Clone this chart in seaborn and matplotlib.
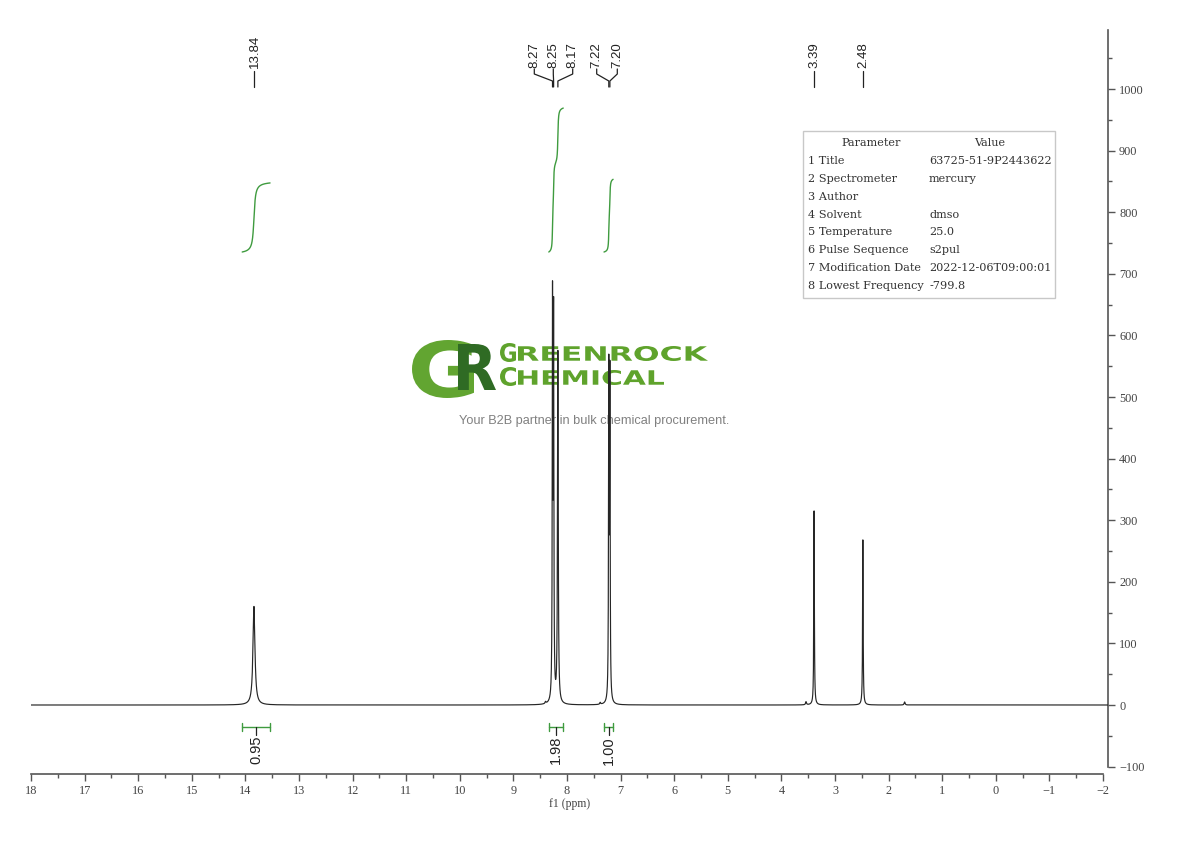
import numpy as np
import pandas as pd
import matplotlib
matplotlib.use("Agg")
import matplotlib.pyplot as plt
import seaborn as sns
from matplotlib.textpath import TextPath
from matplotlib.patches import PathPatch, Rectangle
from matplotlib.font_manager import FontProperties
from matplotlib.transforms import Affine2D
from matplotlib.ticker import MultipleLocator

# ---------------- data ----------------
peak_ppm = [13.84, 8.27, 8.25, 8.17, 7.22, 7.20, 3.39, 2.48, 8.40, 7.38, 3.54, 1.70]
peak_height = [160, 635, 605, 570, 527, 516, 315, 268, 3, 3, 5, 5]
peak_hwhm = [0.022, 0.006, 0.006, 0.008, 0.006, 0.006, 0.006, 0.006, 0.01, 0.01, 0.01, 0.01]

label_groups = [["13.84"], ["8.27", "8.25", "8.17"], ["7.22", "7.20"], ["3.39"], ["2.48"]]

integral_start = [14.06, 8.34, 7.31]
integral_end = [13.54, 8.07, 7.14]
integral_value = [0.95, 1.98, 1.00]

param_names = ["Title", "Spectrometer", "Author", "Solvent", "Temperature",
               "Pulse Sequence", "Modification Date", "Lowest Frequency"]
param_values = ["63725-51-9P2443622", "mercury", "", "dmso", "25.0",
                "s2pul", "2022-12-06T09:00:01", "-799.8"]

x_ticks = list(range(-2, 19))
y_ticks = list(range(-100, 1001, 100))

# ---------------- spectrum ----------------
ppm = np.arange(-2.1, 18.0001, 0.0005)
spec = np.zeros_like(ppm)
for c, h, w in zip(peak_ppm, peak_height, peak_hwhm):
    spec += h * w**2 / ((ppm - c)**2 + w**2)
df = pd.DataFrame({"ppm": ppm, "intensity": spec})

W, H = 1190, 841
sns.set_style("ticks")
fig = plt.figure(figsize=(W / 100, H / 100), dpi=100)
ax = fig.add_axes([31 / W, 1 - 774 / H, (1108 - 31) / W, (774 - 30) / H])
ax.set_facecolor("none")

y0px, ypx_per = 705, 0.616
def ydat(py):
    return (y0px - py) / ypx_per
def xdat(px):
    return 18 - (px - 31) / 53.6

sns.lineplot(data=df, x="ppm", y="intensity", ax=ax, color="#262626",
             linewidth=0.85, estimator=None, zorder=3)

ax.set_xlim(18, xdat(1108))
ax.set_ylim(ydat(774), ydat(30))

# ---------------- axes styling ----------------
axis_col = "#555555"
for s in ["left", "top"]:
    ax.spines[s].set_visible(False)
ax.spines["right"].set_visible(True)
ax.spines["right"].set_bounds(-100, ydat(30))
ax.spines["bottom"].set_bounds(-2, 18)
for s in ["right", "bottom"]:
    ax.spines[s].set_color(axis_col)
    ax.spines[s].set_linewidth(1.2)
ax.yaxis.tick_right()
ax.set_xticks(x_ticks)
ax.set_xticklabels([str(t).replace("-", "\u2212") for t in x_ticks])
ax.set_yticks(y_ticks)
ax.set_yticklabels([str(t).replace("-", "\u2212") for t in y_ticks])
ax.xaxis.set_minor_locator(MultipleLocator(0.5))
ax.yaxis.set_minor_locator(MultipleLocator(50))
ax.tick_params(axis="both", which="major", direction="out", length=5, width=1,
               color=axis_col, labelcolor="#444444", labelsize=8.8, pad=3)
ax.tick_params(axis="both", which="minor", direction="out", length=3, width=1,
               color=axis_col)
for lab in ax.get_xticklabels() + ax.get_yticklabels():
    lab.set_family("Liberation Serif")
ax.set_xlabel("f1 (ppm)", family="Liberation Serif", size=8.5, color="#444444", labelpad=1)
ax.set_ylabel("")

# ---------------- peak labels ----------------
lab_col = "#222222"
lab_font = dict(family="Liberation Sans", size=9.5, color=lab_col)
label_px = {"13.84": 255, "8.27": 534.3, "8.25": 553.3, "8.17": 572.7,
            "7.22": 596.7, "7.20": 617.3, "3.39": 814, "2.48": 863}
for grp in label_groups:
    for lab in grp:
        lx = xdat(label_px[lab])
        pk = float(lab)
        ax.text(lx, ydat(68), lab, rotation=90, ha="center", va="bottom", **lab_font)
        if len(grp) == 1:
            ax.plot([pk, pk], [ydat(71), ydat(87)], color=lab_col, lw=0.9)
        else:
            ax.plot([lx, lx, pk, pk],
                    [ydat(69), ydat(74), ydat(81), ydat(87)], color=lab_col, lw=0.9)

# ---------------- integrals ----------------
green = "#3f9b3f"
unit_rise = 118.0
base = ydat(252)
for st, en, val in zip(integral_start, integral_end, integral_value):
    m = (ppm <= st) & (ppm >= en)
    xs = ppm[m][::-1]
    cs = np.cumsum(spec[m][::-1])
    cs = (cs - cs[0]) / (cs[-1] - cs[0])
    ax.plot(xs, base + unit_rise * val * cs, color=green, lw=1.0, zorder=3)
    yb = ydat(727)
    mid = (st + en) / 2
    ax.plot([st, en], [yb, yb], color=green, lw=1.0)
    for xe in (st, en):
        ax.plot([xe, xe], [ydat(723), ydat(731)], color=green, lw=1.0)
    ax.plot([mid, mid], [yb, ydat(735)], color=lab_col, lw=0.9)
    ax.text(mid, ydat(736), f"{val:.2f}", rotation=90, ha="center", va="top",
            family="Liberation Sans", size=10.5, color=lab_col)

# ---------------- watermark logo ----------------
def fit_text(s, box, color, weight="bold", family="DejaVu Sans", z=1):
    x0, ytop, x1, ybot = box
    tp = TextPath((0, 0), s, size=100, prop=FontProperties(family=family, weight=weight))
    ext = tp.get_extents()
    sx = (x1 - x0) / ext.width
    sy = (ybot - ytop) / ext.height
    tr = (Affine2D().translate(-ext.x0, -ext.y0).scale(sx, sy)
          .translate(x0, H - ybot).scale(1 / W, 1 / H))
    p = PathPatch(tr.transform_path(tp), facecolor=color, edgecolor="none",
                  transform=fig.transFigure, zorder=z)
    ax.add_artist(p)

fit_text("G", (412, 340, 474, 398), "#62a531", weight="bold", z=1)
fit_text("R", (458, 344, 496, 390), "#2f6b24", weight="bold", z=1.1)
fit_text("G", (500, 343, 516, 362), "#5fa32c", weight="bold", z=1)
fit_text("REENROCK", (518, 346, 708, 361), "#5fa32c", weight="bold", z=1)
fit_text("C", (500, 367, 516, 386), "#5fa32c", weight="bold", z=1)
fit_text("HEMICAL", (518, 370, 664, 385), "#5fa32c", weight="bold", z=1)
ax.text(594.5 / W, 1 - 421 / H, "Your B2B partner in bulk chemical procurement.",
        transform=fig.transFigure, ha="center", va="center",
        family="Liberation Sans", size=9.2, color="#808080", zorder=1)

# ---------------- parameter table ----------------
fig.patches.append(Rectangle((803 / W, 1 - 298 / H), (1055 - 803) / W, (298 - 131) / H,
                             transform=fig.transFigure, facecolor="white",
                             edgecolor="#c8c8c8", lw=1.0, zorder=2))
tfont = dict(family="DejaVu Serif", size=8.1, color="#333333", va="center", zorder=6)
fig.text(871 / W, 1 - 143 / H, "Parameter", ha="center", **tfont)
fig.text(990 / W, 1 - 143 / H, "Value", ha="center", **tfont)
row_y = [161, 179, 197, 215, 232, 250, 268, 286]
for i, (n, v) in enumerate(zip(param_names, param_values)):
    fig.text(808 / W, 1 - row_y[i] / H, f"{i + 1} {n}", ha="left", **tfont)
    fig.text(929 / W, 1 - row_y[i] / H, v, ha="left", **tfont)

fig.savefig("out.png", dpi=100, facecolor="white")
